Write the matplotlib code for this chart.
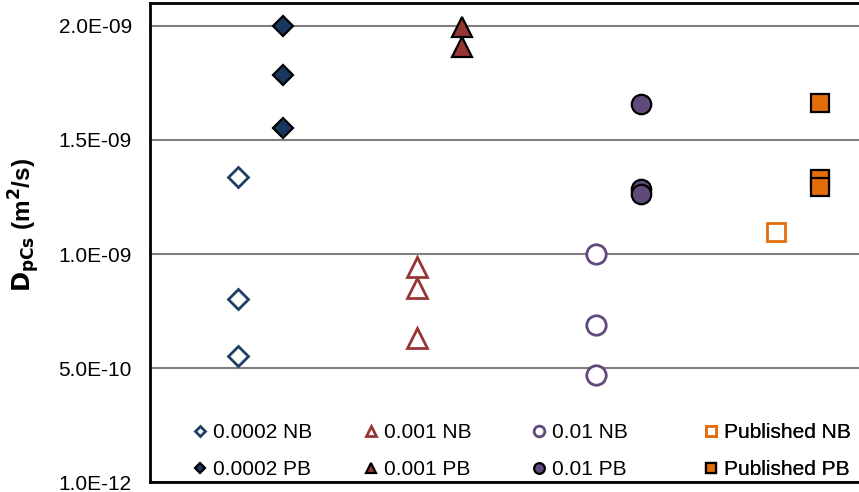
import matplotlib.pyplot as plt
from matplotlib.ticker import FixedLocator, FuncFormatter

plt.rcParams['font.family'] = ['Liberation Sans', 'DejaVu Sans']

# group positions on the x axis (NB left, PB right of each group)
groups = ['0.0002', '0.001', '0.01', 'Published']
x_nb = [1.0, 2.0, 3.0, 4.0]
x_pb = [1.25, 2.25, 3.25, 4.25]

# diffusion coefficients, m2/s
d_0002_nb = [1.338e-9, 0.803e-9, 0.553e-9]
d_0002_pb = [2.0e-9, 1.785e-9, 1.553e-9]
d_001_nb = [0.943e-9, 0.849e-9, 0.632e-9]
d_001_pb = [1.996e-9, 1.908e-9]
d_01_nb = [1.001e-9, 0.687e-9, 0.472e-9]
d_01_pb = [1.658e-9, 1.285e-9, 1.263e-9]
d_pub_nb = [1.096e-9]
d_pub_pb = [1.662e-9, 1.329e-9, 1.294e-9]

y_ticks = [1e-12, 5e-10, 1e-9, 1.5e-9, 2e-9]

W, H = 859, 492
fig = plt.figure(figsize=(W / 100, H / 100), dpi=100)
ax = fig.add_axes([150 / W, 10 / H, 1.0 - 150 / W + 0.003, 479 / H])

series = [
    ('0.0002 NB', x_nb[0], d_0002_nb, 'D', '#1F3F66', False),
    ('0.0002 PB', x_pb[0], d_0002_pb, 'D', '#17375E', True),
    ('0.001 NB', x_nb[1], d_001_nb, '^', '#953735', False),
    ('0.001 PB', x_pb[1], d_001_pb, '^', '#953735', True),
    ('0.01 NB', x_nb[2], d_01_nb, 'o', '#604A7B', False),
    ('0.01 PB', x_pb[2], d_01_pb, 'o', '#604A7B', True),
    ('Published NB', x_nb[3], d_pub_nb, 's', '#E46C0A', False),
    ('Published PB', x_pb[3], d_pub_pb, 's', '#E46C0A', True),
]

sizes = {'D': 10, '^': 14, 'o': 14, 's': 13}
handles = []
for label, x, vals, m, c, filled in series:
    if filled:
        h, = ax.plot([x] * len(vals), vals, linestyle='none', marker=m,
                     markersize=sizes[m], markerfacecolor=c,
                     markeredgecolor='black', markeredgewidth=1.6,
                     label=label, zorder=3)
    else:
        h, = ax.plot([x] * len(vals), vals, linestyle='none', marker=m,
                     markersize=sizes[m], markerfacecolor='white',
                     markeredgecolor=c, markeredgewidth=2.0,
                     label=label, zorder=3)
    handles.append(h)

ax.set_xlim(0.51, 4.48)
ax.set_ylim(1e-12, 2.1e-9)
ax.yaxis.set_major_locator(FixedLocator(y_ticks))
ax.yaxis.set_major_formatter(FuncFormatter(lambda v, p: f'{v:.1E}'))
ax.set_xticks([])
ax.tick_params(axis='y', length=0, pad=13, labelsize=15)
ax.grid(axis='y', color='#808080', linewidth=1.5)
ax.set_axisbelow(True)

for s in ['left', 'top', 'bottom']:
    ax.spines[s].set_linewidth(2)
    ax.spines[s].set_color('black')
ax.spines['right'].set_visible(False)

ax.set_ylabel(r'$\mathbf{D_{pCs}}$ (m$^\mathbf{2}$/s)', fontsize=17.5,
              fontweight='bold')
ax.yaxis.set_label_coords(-0.152, 0.537)

# one small legend per group, NB above PB
leg_left_px = [194, 365, 533, 705]
leg_top_px = 423
for i, px in enumerate(leg_left_px):
    leg = ax.legend(handles=handles[2 * i:2 * i + 2], loc='upper left',
                    bbox_to_anchor=(px / W, 1 - leg_top_px / H),
                    bbox_transform=fig.transFigure, frameon=False,
                    fontsize=15, markerscale=0.55, handlelength=0.6,
                    handletextpad=0.3, labelspacing=0.86,
                    borderpad=0, borderaxespad=0)
    ax.add_artist(leg)

fig.savefig('out.png', dpi=100)
